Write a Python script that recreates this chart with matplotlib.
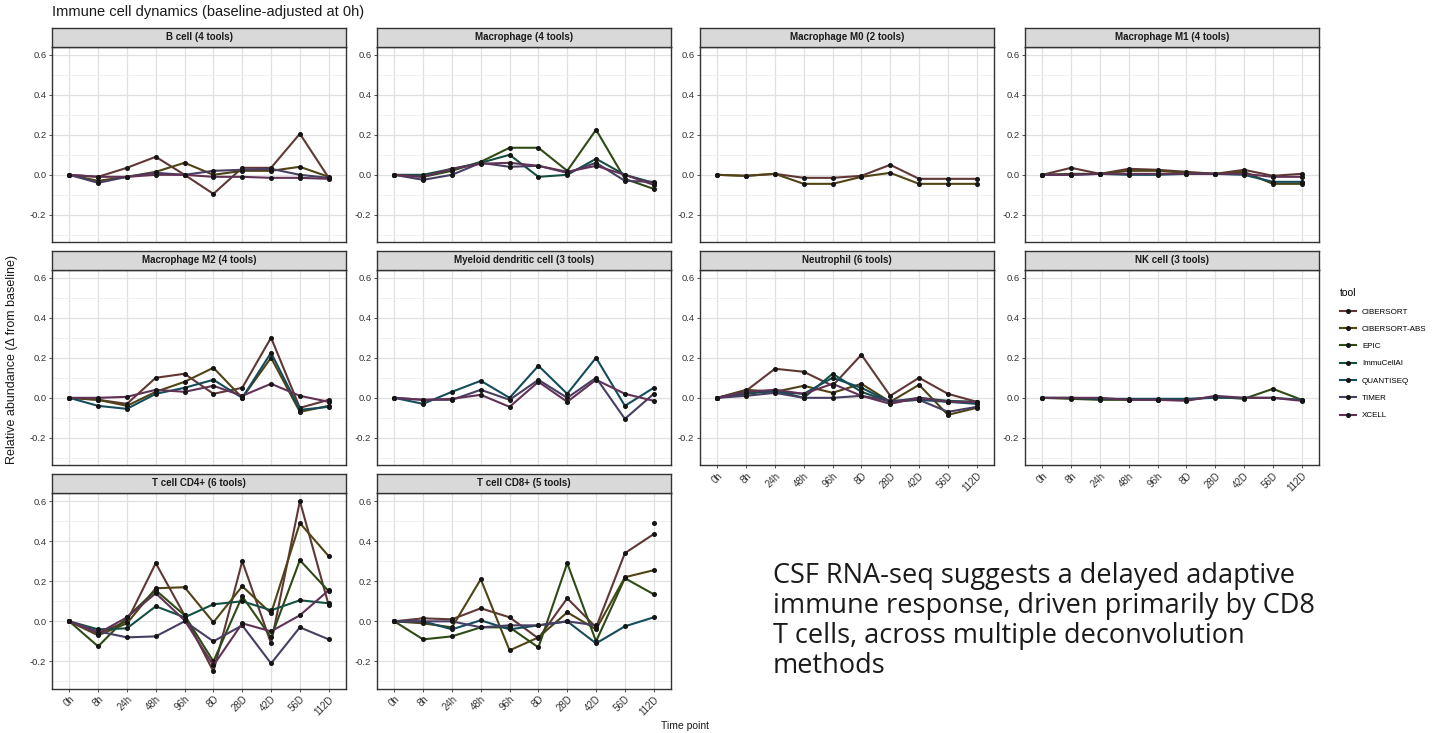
import numpy as np
import matplotlib
matplotlib.use("Agg")
import matplotlib.pyplot as plt
from matplotlib.lines import Line2D
import matplotlib.colors as mcolors

# ---------------- data ----------------
time_points = ["0h", "8h", "24h", "48h", "96h", "8D", "28D", "42D", "56D", "112D"]
tools = ["CIBERSORT", "CIBERSORT-ABS", "EPIC", "ImmuCellAI", "QUANTISEQ", "TIMER", "XCELL"]
nan = np.nan

b_cell = {
    "CIBERSORT":     [0, -0.01, 0.035, 0.09, 0.0, -0.095, 0.035, 0.035, 0.205, -0.015],
    "CIBERSORT-ABS": [0, -0.03, -0.01, 0.015, 0.06, 0.0, 0.02, 0.02, 0.04, -0.01],
    "TIMER":         [0, -0.04, -0.01, 0.01, 0.0, 0.02, 0.025, 0.03, 0.0, -0.015],
    "XCELL":         [0, -0.01, -0.01, 0.0, 0.0, -0.01, -0.01, -0.015, -0.015, -0.02],
}
macrophage = {
    "EPIC":       [0, -0.01, 0.02, 0.065, 0.135, 0.135, 0.02, 0.225, -0.02, -0.07],
    "ImmuCellAI": [0, 0.0, 0.03, 0.06, 0.1, -0.01, 0.0, 0.08, 0.0, -0.04],
    "TIMER":      [0, -0.025, 0.0, 0.06, 0.04, 0.045, 0.01, 0.06, -0.03, -0.035],
    "XCELL":      [0, -0.01, 0.03, 0.055, 0.06, 0.045, 0.015, 0.045, 0.0, -0.05],
}
macrophage_m0 = {
    "CIBERSORT":     [0, -0.005, 0.005, -0.015, -0.015, -0.005, 0.05, -0.02, -0.02, -0.02],
    "CIBERSORT-ABS": [0, -0.005, 0.005, -0.045, -0.045, -0.01, 0.01, -0.045, -0.045, -0.045],
}
macrophage_m1 = {
    "CIBERSORT":     [0, 0.035, 0.005, 0.03, 0.025, 0.015, 0.005, 0.025, -0.005, 0.005],
    "CIBERSORT-ABS": [0, 0.005, 0.005, 0.02, 0.02, 0.01, 0.005, 0.015, -0.045, -0.045],
    "QUANTISEQ":     [0, 0.0, 0.005, 0.0, 0.0, 0.005, 0.005, 0.0, -0.035, -0.035],
    "XCELL":         [0, 0.0, 0.005, 0.005, 0.005, 0.005, 0.005, 0.005, -0.01, -0.01],
}
macrophage_m2 = {
    "CIBERSORT":     [0, -0.01, -0.03, 0.1, 0.12, 0.02, 0.05, 0.3, -0.05, -0.01],
    "CIBERSORT-ABS": [0, -0.01, -0.04, 0.03, 0.08, 0.15, 0.0, 0.2, -0.07, -0.04],
    "QUANTISEQ":     [0, -0.04, -0.055, 0.02, 0.05, 0.09, 0.0, 0.225, -0.06, -0.045],
    "XCELL":         [0, 0.0, 0.005, 0.04, 0.03, 0.06, 0.01, 0.07, 0.01, -0.02],
}
myeloid_dc = {
    "QUANTISEQ": [0, -0.03, 0.03, 0.085, 0.0, 0.16, 0.02, 0.2, -0.04, 0.05],
    "TIMER":     [0, -0.01, -0.01, 0.04, -0.01, 0.09, 0.0, 0.1, -0.105, 0.02],
    "XCELL":     [0, -0.01, -0.005, 0.015, -0.045, 0.08, -0.02, 0.09, 0.02, -0.015],
}
neutrophil = {
    "CIBERSORT":     [0, 0.035, 0.145, 0.13, 0.06, 0.215, 0.01, 0.1, 0.02, -0.02],
    "CIBERSORT-ABS": [0, 0.04, 0.03, 0.06, 0.025, 0.07, -0.02, 0.065, -0.085, -0.05],
    "ImmuCellAI":    [0, 0.02, 0.035, 0.0, 0.12, 0.03, -0.02, 0.0, -0.015, -0.02],
    "QUANTISEQ":     [0, 0.03, 0.03, 0.02, 0.1, 0.05, -0.02, -0.01, -0.02, -0.03],
    "TIMER":         [0, 0.01, 0.025, 0.0, 0.0, 0.01, -0.015, -0.01, -0.07, -0.045],
    "XCELL":         [0, 0.03, 0.04, 0.02, 0.07, 0.01, -0.03, 0.0, -0.02, -0.02],
}
nk_cell = {
    "EPIC":      [0, -0.005, -0.01, -0.01, -0.01, -0.01, 0.005, -0.005, 0.045, -0.01],
    "QUANTISEQ": [0, 0.0, -0.005, -0.005, -0.005, -0.005, 0.0, 0.0, 0.0, -0.01],
    "XCELL":     [0, 0.0, 0.0, -0.01, -0.01, -0.015, 0.01, 0.0, 0.0, -0.015],
}
t_cd4 = {
    "CIBERSORT":     [0, -0.06, 0.0, 0.29, 0.03, -0.25, 0.3, -0.11, 0.6, 0.08],
    "CIBERSORT-ABS": [0, -0.07, -0.01, 0.165, 0.17, -0.005, 0.175, 0.04, 0.49, 0.325],
    "EPIC":          [0, -0.125, 0.02, 0.155, 0.03, -0.2, 0.125, -0.08, 0.305, 0.15],
    "ImmuCellAI":    [0, -0.04, -0.035, 0.075, 0.02, 0.085, 0.1, 0.055, 0.105, 0.09],
    "TIMER":         [0, -0.05, -0.08, -0.075, 0.0, -0.1, -0.02, -0.21, -0.03, -0.09],
    "XCELL":         [0, -0.06, 0.02, 0.14, 0.005, -0.22, -0.01, -0.05, 0.03, 0.155],
}
t_cd8 = {
    "CIBERSORT":     [0, 0.015, 0.01, 0.065, 0.02, -0.085, 0.115, -0.03, 0.34, 0.435],
    "CIBERSORT-ABS": [0, -0.01, -0.03, 0.21, -0.145, -0.08, 0.045, -0.04, 0.22, 0.255],
    "EPIC":          [0, -0.09, -0.075, -0.03, -0.03, -0.13, 0.29, -0.1, 0.215, 0.135],
    "QUANTISEQ":     [0, 0.0, -0.04, 0.005, -0.04, -0.02, 0.0, -0.11, -0.025, 0.02],
    "TIMER":         [0, 0.0, 0.0, -0.03, -0.02, -0.02, 0.0, -0.02, nan, 0.49],
}

panel_titles = ["B cell (4 tools)", "Macrophage (4 tools)", "Macrophage M0 (2 tools)",
                "Macrophage M1 (4 tools)", "Macrophage M2 (4 tools)",
                "Myeloid dendritic cell (3 tools)", "Neutrophil (6 tools)",
                "NK cell (3 tools)", "T cell CD4+ (6 tools)", "T cell CD8+ (5 tools)"]
panel_data = [b_cell, macrophage, macrophage_m0, macrophage_m1, macrophage_m2,
              myeloid_dc, neutrophil, nk_cell, t_cd4, t_cd8]

title = "Immune cell dynamics (baseline-adjusted at 0h)"
y_label = "Relative abundance (\u0394 from baseline)"
x_label = "Time point"
note = ("CSF RNA-seq suggests a delayed adaptive\nimmune response, driven primarily by CD8\n"
        "T cells, across multiple deconvolution\nmethods")

# ---------------- style ----------------
base_hues = ["#F8766D", "#C49A00", "#53B400", "#00C094", "#00B6EB", "#A58AFF", "#FB61D7"]
dark = np.array(mcolors.to_rgb("#1e1e1e"))
tool_colors = {}
for t, h in zip(tools, base_hues):
    c = 0.30 * np.array(mcolors.to_rgb(h)) + 0.70 * dark
    tool_colors[t] = tuple(c)

W, H = 1445, 733
fig = plt.figure(figsize=(W / 100, H / 100), dpi=100)
plt.rcParams['font.family'] = ['Liberation Sans', 'DejaVu Sans']

col_left = [52, 377, 700, 1025]
pw = 294
row_top = [46.5, 269.5, 493]
ph = 195.5
strip_h = 19

x = np.arange(len(time_points))

for i, (ttl, data) in enumerate(zip(panel_titles, panel_data)):
    r, c = divmod(i, 4)
    left = col_left[c] / W
    bottom = 1 - (row_top[r] + ph) / H
    ax = fig.add_axes([left, bottom, pw / W, ph / H])
    ax.set_xlim(-0.6, len(time_points) - 0.4)
    ax.set_ylim(-0.335, 0.64)
    ax.set_yticks([-0.2, 0.0, 0.2, 0.4, 0.6])
    ax.set_yticks([-0.3, -0.1, 0.1, 0.3, 0.5], minor=True)
    ax.set_yticklabels(["-0.2", "0.0", "0.2", "0.4", "0.6"], fontsize=6.8, color="#333333")
    ax.set_xticks(x)
    ax.grid(True, which="major", color="#e0e0e0", lw=0.9)
    ax.grid(True, which="minor", axis="y", color="#efefef", lw=0.6)
    ax.set_axisbelow(True)
    ax.tick_params(axis="y", which="minor", length=0)
    ax.tick_params(axis="both", which="major", length=2.5, width=0.6, color="#333333", pad=1.5)
    show_x = (r == 2) or (r == 1 and c >= 2)
    if show_x:
        ax.set_xticklabels(time_points, rotation=45, ha="right", rotation_mode="anchor",
                           fontsize=7, color="#333333")
    else:
        ax.set_xticklabels([])
        ax.tick_params(axis="x", length=0)
    for sp in ax.spines.values():
        sp.set_color("#333333")
        sp.set_linewidth(1.0)
    for tool, vals in data.items():
        ax.plot(x, vals, color=tool_colors[tool], lw=1.5, marker="o", ms=2.6,
                mfc="#151515", mec="#151515", zorder=3)
    # strip
    sax = fig.add_axes([left, 1 - row_top[r] / H, pw / W, strip_h / H])
    sax.set_xticks([]); sax.set_yticks([])
    sax.set_facecolor("#d9d9d9")
    for sp in sax.spines.values():
        sp.set_color("#333333")
        sp.set_linewidth(1.0)
    sax.text(0.5, 0.5, ttl, transform=sax.transAxes, ha="center", va="center",
             fontsize=7, fontweight="bold", color="#1a1a1a")

# titles / labels
fig.text(52 / W, 1 - 12 / H, title, fontsize=10.5, ha="left", va="center", color="#1a1a1a")
fig.text(12 / W, 1 - 360 / H, y_label, rotation=90, fontsize=9, ha="center", va="center",
         color="#1a1a1a")
fig.text(685 / W, 1 - 726 / H, x_label, fontsize=7.5, ha="center", va="center", color="#1a1a1a")

# legend
handles = [Line2D([0], [0], color=tool_colors[t], lw=1.5, marker="o", ms=2.6,
                  mfc="#151515", mec="#151515") for t in tools]
leg = fig.legend(handles, tools, title="tool", loc="upper left",
                 bbox_to_anchor=(1333 / W, 1 - 281 / H), frameon=False, fontsize=5.8,
                 title_fontsize=7.5, handlelength=2.0, labelspacing=1.2, handletextpad=0.7,
                 alignment="left")

# annotation
fig.text(773 / W, 1 - 562 / H, note, fontsize=19.5, ha="left", va="top", linespacing=1.1,
         family=["Open Sans", "DejaVu Sans"], color="#1a1a1a")

fig.savefig("out.png", dpi=100)
